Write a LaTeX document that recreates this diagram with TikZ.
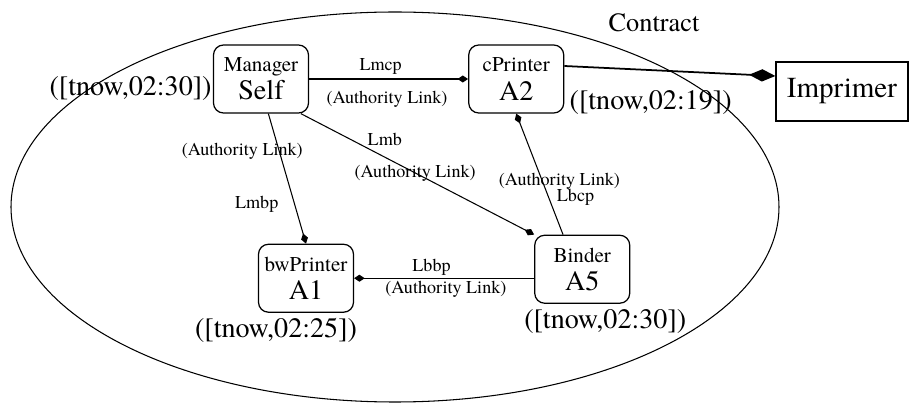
\documentclass[tikz,border=0pt]{standalone}
\usepackage{fontspec}
\setmainfont{texgyretermes}[Extension=.otf, UprightFont=*-regular, BoldFont=*-bold, ItalicFont=*-italic, BoldItalicFont=*-bolditalic]
\usepackage{tikz}
\usetikzlibrary{arrows.meta,positioning,shapes.geometric}
\newcommand{\agentid}[1]{{\fontsize{16}{16}\selectfont #1}}
\tikzset{
  agent/.style={draw, rounded corners=0.2cm, line width=0.7pt, minimum width=1.9cm, minimum height=1.36cm, inner sep=2pt, align=center, font=\fontsize{12}{16}\selectfont},
  ext/.style={draw, line width=0.7pt, minimum width=2.64cm, minimum height=1.18cm, font=\fontsize{16.5}{18}\selectfont},
  tlab/.style={inner sep=0pt, font=\fontsize{16}{18}\selectfont},
  elab/.style={inner sep=1pt, font=\fontsize{10.3}{12}\selectfont},
  link/.style={-{Diamond[length=6pt,width=4pt]}, line width=0.6pt},
  bind/.style={-{Diamond[length=15pt,width=7pt]}, line width=1pt},
}
\begin{document}
\begin{tikzpicture}
  \useasboundingbox (0,0) rectangle (18.2,-8.06);
  % contract boundary
  \node[ellipse, draw, line width=0.6pt, minimum width=15.36cm, minimum height=7.8cm, inner sep=0pt] (contract) at (7.9,-4.14) {};
  \node[tlab, font=\fontsize{15}{17}\selectfont] (contractname) at (13.08,-0.46) {Contract};
  % agents
  \node[agent] (self) at (5.22,-1.58) {Manager\\\agentid{Self}};
  \node[agent, right=3.18cm of self] (cprinter) {cPrinter\\\agentid{A2}};
  \node[agent, below=2.6cm of self, xshift=0.9cm] (bwprinter) {bwPrinter\\\agentid{A1}};
  \node[agent, right=3.6cm of bwprinter, yshift=0.18cm] (binder) {Binder\\\agentid{A5}};
  \node[ext, right=4.22cm of cprinter, yshift=-0.25cm] (imprimer) {Imprimer};
  % time stamps
  \node[tlab, left=0.02cm of self, yshift=-0.18cm] (tself) {([tnow,02:30])};
  \node[tlab, right=0.1cm of cprinter, yshift=-0.46cm] (tcprinter) {([tnow,02:19])};
  \node[tlab, below=0.1cm of bwprinter, xshift=-0.6cm] (tbwprinter) {([tnow,02:25])};
  \node[tlab, below=0.1cm of binder, xshift=0.46cm] (tbinder) {([tnow,02:30])};
  % links
  \draw[link] (self) -- node[elab, pos=0.45, yshift=0.26cm] (lmcp) {Lmcp}
    node[elab, pos=0.49, yshift=-0.4cm] (almcp) {(Authority Link)} (cprinter);
  \draw[link] (self.-78) -- node[elab, pos=0.29, xshift=-0.74cm] (almbp) {(Authority Link)}
    node[elab, pos=0.7, xshift=-0.76cm] (lmbp) {Lmbp} (bwprinter.north);
  \draw[link] (self.-41) -- node[elab, pos=0.36, yshift=0.36cm] (lmb) {Lmb}
    node[elab, pos=0.49] (almb) {(Authority Link)} (binder.north west);
  \draw[link] (binder.119) -- node[elab, pos=0.44, xshift=0.34cm] (albcp) {(Authority Link)}
    node[elab, pos=0.31, xshift=0.54cm] (lbcp) {Lbcp} (cprinter.south);
  \draw[link] (binder.west |- bwprinter.east) -- node[elab, pos=0.57, yshift=0.22cm] (lbbp) {Lbbp}
    node[elab, pos=0.49, yshift=-0.22cm] (albbp) {(Authority Link)} (bwprinter.east);
  \draw[bind] ([yshift=0.26cm]cprinter.east) -- ([yshift=0.31cm]imprimer.west);
\end{tikzpicture}
\end{document}
